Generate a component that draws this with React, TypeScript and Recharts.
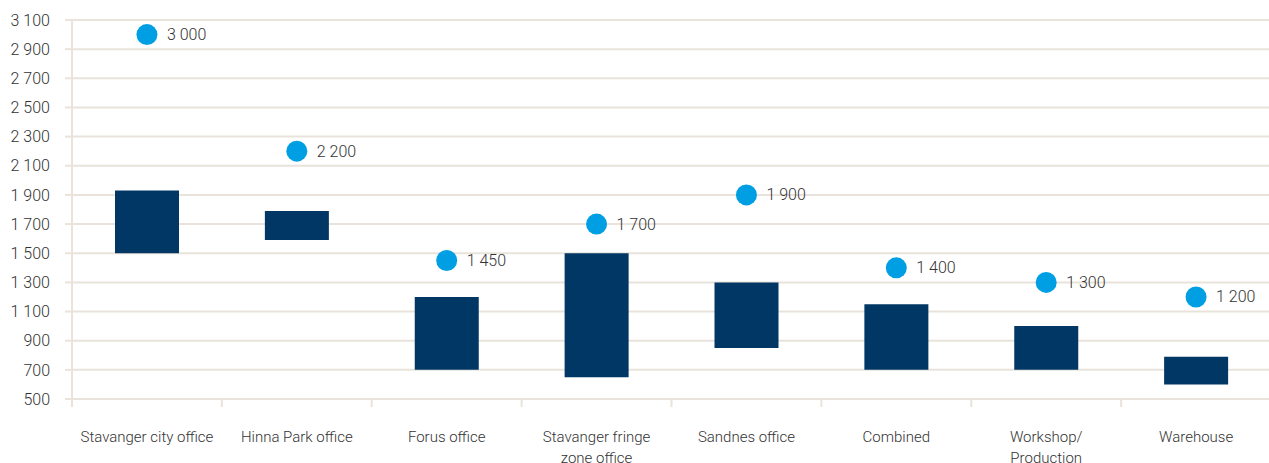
import { ComposedChart, Bar, Line, XAxis, YAxis, CartesianGrid, LabelList } from 'recharts'

const categories = [
  'Stavanger city office',
  'Hinna Park office',
  'Forus office',
  'Stavanger fringe zone office',
  'Sandnes office',
  'Combined',
  'Workshop/ Production',
  'Warehouse',
]
const tickLines = [
  ['Stavanger city office'],
  ['Hinna Park office'],
  ['Forus office'],
  ['Stavanger fringe', 'zone office'],
  ['Sandnes office'],
  ['Combined'],
  ['Workshop/', 'Production'],
  ['Warehouse'],
]
const rangeLow = [1500, 1590, 700, 650, 850, 700, 700, 600]
const rangeHigh = [1930, 1790, 1200, 1500, 1300, 1150, 1000, 790]
const topRent = [3000, 2200, 1450, 1700, 1900, 1400, 1300, 1200]
const yTicks = [500, 700, 900, 1100, 1300, 1500, 1700, 1900, 2100, 2300, 2500, 2700, 2900, 3100]
const sepTicks = [0, 1, 2, 3, 4, 5, 6, 7, 8]

const data = categories.map((name, i) => ({
  name,
  idx: i,
  range: [rangeLow[i], rangeHigh[i]],
  top: topRent[i],
}))

const GRID = '#e9e3db'
const TEXT = '#333333'
const FONT = 'Roboto, sans-serif'

const fmt = (v: number) => String(v).replace(/\B(?=(\d{3})+(?!\d))/g, ' ')

const CategoryTick = (props: any) => {
  const { x, y, payload } = props
  const lines = tickLines[payload.index] || [payload.value]
  return (
    <text x={x} y={y} textAnchor="middle" fill={TEXT} fontSize={15} fontWeight={300} fontFamily={FONT}>
      {lines.map((l: string, i: number) => (
        <tspan key={i} x={x} dy={i === 0 ? 35 : 21}>{l}</tspan>
      ))}
    </text>
  )
}

const PointLabel = (props: any) => {
  const { x, y, value } = props
  return (
    <text x={x + 20} y={y} dominantBaseline="central" fill={TEXT} fontSize={16} fontWeight={300} fontFamily={FONT}>
      {fmt(value)}
    </text>
  )
}

export default function App() {
  return (
    <div style={{ position: 'absolute', left: 0, top: 0, width: 1269, height: 463, overflow: 'hidden', background: '#fff' }}>
      <ComposedChart width={1280} height={463} data={data} margin={{ top: 20, right: 9, bottom: 0, left: 0 }}>
        <CartesianGrid vertical={false} stroke={GRID} strokeWidth={2} xAxisId="cat" />
        <XAxis
          xAxisId={0}
          type="number"
          dataKey="idx"
          domain={[0, 8]}
          ticks={sepTicks}
          tickFormatter={() => ''}
          tickSize={8}
          tickLine={{ stroke: GRID, strokeWidth: 2 }}
          axisLine={false}
          height={8}
          allowDataOverflow
        />
        <XAxis
          xAxisId="cat"
          dataKey="name"
          interval={0}
          tick={<CategoryTick />}
          tickLine={false}
          axisLine={false}
          tickSize={0}
          tickMargin={0}
          height={56}
        />
        <YAxis
          domain={[500, 3100]}
          ticks={yTicks}
          tickFormatter={fmt}
          width={72}
          tickSize={7}
          tickMargin={15}
          axisLine={{ stroke: GRID, strokeWidth: 2 }}
          tickLine={{ stroke: GRID, strokeWidth: 2 }}
          tick={{ fill: TEXT, fontSize: 16, fontWeight: 300, fontFamily: FONT }}
          allowDataOverflow
        />
        <Bar xAxisId="cat" dataKey="range" fill="#003764" barSize={64} isAnimationActive={false} />
        <Line
          xAxisId="cat"
          dataKey="top"
          stroke="none"
          strokeWidth={0}
          dot={{ r: 10.5, fill: '#009fe3', stroke: 'none' }}
          activeDot={false}
          isAnimationActive={false}
        >
          <LabelList dataKey="top" content={<PointLabel />} />
        </Line>
      </ComposedChart>
    </div>
  )
}
